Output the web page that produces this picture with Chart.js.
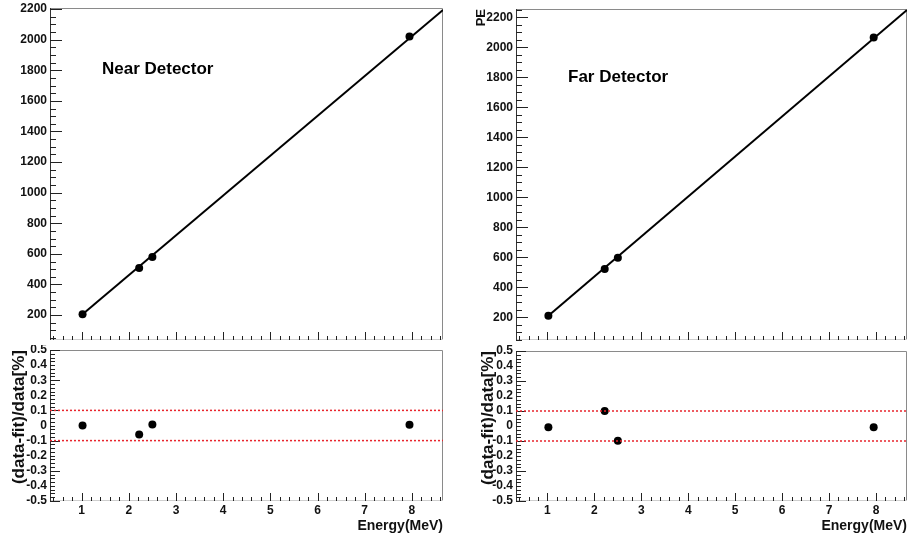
<!DOCTYPE html>
<html>
<head>
<meta charset="utf-8">
<script src="https://cdn.jsdelivr.net/npm/chart.js@4"></script>
<style>
  body { margin: 0; background: #fff; }
  #wrap { position: relative; width: 911px; height: 540px; overflow: hidden; }
  canvas { position: absolute; }
  .label { position: absolute; font: bold 17px 'Liberation Sans', Arial, sans-serif; color: #000; line-height: 20px; white-space: nowrap; }
</style>
</head>
<body>
<div id="wrap">
  <canvas id="nearTop" width="455" height="345" style="left:0;top:0"></canvas>
  <canvas id="nearRes" width="455" height="195" style="left:0;top:345px"></canvas>
  <canvas id="farTop" width="456" height="345" style="left:455px;top:0"></canvas>
  <canvas id="farRes" width="456" height="195" style="left:455px;top:345px"></canvas>
  <div class="label" style="left:102px;top:59px">Near Detector</div>
  <div class="label" style="left:568px;top:67px">Far Detector</div>
</div>
<script>
// calibration points (MeV) and measured PE
const energy = [1.02, 2.22, 2.5, 7.95];
const nearPE = [205, 508, 580, 2020];
const farPE = [211, 522, 598, 2065];

// residuals (data-fit)/data in %
const nearResid = [0.0, -0.06, 0.006, 0.005];
const farResid = [-0.008, 0.1, -0.098, -0.008];

// fitted lines, endpoints
const nearFitX = [1.02, 8.66];
const nearFitY = [205, 2194];
const farFitX = [1.02, 8.66];
const farFitY = [211, 2248];

// +-0.1% reference lines
const limitLevels = [0.1, -0.1];

// tick labels
const energyTicks = [1, 2, 3, 4, 5, 6, 7, 8];
const peTicks = [200, 400, 600, 800, 1000, 1200, 1400, 1600, 1800, 2000, 2200];
const residTicks = [-0.5, -0.4, -0.3, -0.2, -0.1, 0, 0.1, 0.2, 0.3, 0.4, 0.5];

const X_MIN = 0.33, X_MAX = 8.66;

Chart.defaults.font.family = "'Liberation Sans', Arial, sans-serif";
Chart.defaults.font.weight = 'bold';
Chart.defaults.color = '#111';

// ROOT style frame with ticks pointing into the plot
const rootAxes = {
  id: 'rootAxes',
  beforeDatasetsDraw(chart, args, opts) {
    const { ctx, chartArea: a, scales: { x, y } } = chart;
    ctx.save();
    ctx.lineWidth = 1;
    ctx.strokeStyle = '#8a8a8a';
    ctx.beginPath();
    ctx.moveTo(a.left, a.top + 0.5);
    ctx.lineTo(a.right - 0.5, a.top + 0.5);
    ctx.lineTo(a.right - 0.5, a.bottom);
    ctx.stroke();
    ctx.strokeStyle = '#cfcfcf';
    ctx.beginPath();
    ctx.moveTo(a.left, a.bottom - 0.5);
    ctx.lineTo(a.right, a.bottom - 0.5);
    ctx.stroke();
    ctx.strokeStyle = '#333';
    ctx.beginPath();
    ctx.moveTo(a.left + 0.5, a.top);
    ctx.lineTo(a.left + 0.5, a.bottom);
    ctx.stroke();

    ctx.strokeStyle = '#222';
    ctx.beginPath();
    // y ticks
    const ys = opts.yMinor;
    for (let n = Math.ceil(y.min / ys - 1e-6); n * ys <= y.max + 1e-9; n++) {
      const v = n * ys;
      const k = (v - opts.yMajorBase) / opts.yMajor;
      const len = Math.abs(k - Math.round(k)) < 1e-6 ? opts.yMajorLen : opts.yMinorLen;
      const py = Math.round(y.getPixelForValue(v)) + 0.5;
      ctx.moveTo(a.left, py);
      ctx.lineTo(a.left + len, py);
    }
    // x ticks
    const xs = 0.2;
    for (let n = Math.ceil(x.min / xs - 1e-6); n * xs <= x.max + 1e-9; n++) {
      const v = n * xs;
      const len = Math.abs(v - Math.round(v)) < 1e-6 ? 8 : 4;
      const px = Math.round(x.getPixelForValue(v)) + 0.5;
      ctx.moveTo(px, a.bottom);
      ctx.lineTo(px, a.bottom - len);
    }
    ctx.stroke();
    ctx.restore();
  }
};

function fixedTicks(list) {
  return (scale) => { scale.ticks = list.map(v => ({ value: v })); };
}

function makeChart(id, datasets, o) {
  return new Chart(document.getElementById(id), {
    type: 'scatter',
    data: { datasets },
    options: {
      responsive: false,
      animation: false,
      devicePixelRatio: 1,
      layout: { padding: o.padding },
      plugins: {
        legend: { display: false },
        tooltip: { enabled: false },
        rootAxes: o.ticks
      },
      scales: {
        x: {
          type: 'linear',
          min: X_MIN,
          max: X_MAX,
          display: o.showX,
          afterBuildTicks: fixedTicks(energyTicks),
          afterFit: (s) => { s.height = o.showX ? 39 : 0; s.paddingLeft = 0; s.paddingRight = 0; },
          grid: { display: false, drawTicks: false },
          border: { display: false },
          ticks: { font: { size: 12 }, padding: 2, autoSkip: false, maxRotation: 0, callback: (v) => String(v) },
          title: {
            display: o.showX,
            text: 'Energy(MeV)',
            align: 'end',
            font: { size: 14, weight: 'bold' },
            color: '#111',
            padding: { top: 0, bottom: 5 }
          }
        },
        y: {
          type: 'linear',
          min: o.yMin,
          max: o.yMax,
          afterBuildTicks: fixedTicks(o.yTicks),
          afterFit: (s) => { s.width = o.yWidth; s.paddingTop = 0; s.paddingBottom = 0; },
          grid: { display: false, drawTicks: false },
          border: { display: false },
          ticks: { font: { size: 12 }, padding: 3, autoSkip: false, callback: (v) => String(v) },
          title: o.yTitle
        }
      }
    },
    plugins: [rootAxes]
  });
}

function fitLine(xs, ys) {
  return {
    data: xs.map((x, i) => ({ x, y: ys[i] })),
    showLine: true,
    borderColor: '#000',
    borderWidth: 2,
    pointRadius: 0
  };
}

function markers(vals, r) {
  return {
    data: energy.map((x, i) => ({ x, y: vals[i] })),
    pointRadius: r,
    pointBackgroundColor: '#000',
    pointBorderWidth: 0
  };
}

function limitLines() {
  return limitLevels.map(lvl => ({
    data: [{ x: X_MIN, y: lvl }, { x: X_MAX, y: lvl }],
    showLine: true,
    borderColor: '#e8242c',
    borderWidth: 1.5,
    borderDash: [2, 2],
    pointRadius: 0
  }));
}

const peAxisTicks = { yMinor: 50, yMajor: 200, yMajorBase: 0, yMajorLen: 12, yMinorLen: 6 };
const resAxisTicks = { yMinor: 0.025, yMajor: 0.2, yMajorBase: 0.1, yMajorLen: 10, yMinorLen: 5 };
const residTitle = {
  display: true,
  text: '(data-fit)/data[%]',
  align: 'end',
  font: { size: 17, weight: 'bold' },
  color: '#111',
  padding: { top: 9, bottom: 0 }
};

makeChart('nearTop', [fitLine(nearFitX, nearFitY), markers(nearPE, 4)], {
  padding: { top: 8, right: 12, bottom: 5, left: 0 },
  showX: false, yMin: 37, yMax: 2207, yTicks: peTicks, yWidth: 50,
  ticks: peAxisTicks, yTitle: { display: false }
});

makeChart('nearRes', [...limitLines(), markers(nearResid, 4)], {
  padding: { top: 5, right: 12, bottom: 0, left: 0 },
  showX: true, yMin: -0.5, yMax: 0.5, yTicks: residTicks, yWidth: 50,
  ticks: resAxisTicks, yTitle: residTitle
});

makeChart('farTop', [fitLine(farFitX, farFitY), markers(farPE, 4)], {
  padding: { top: 9, right: 2, bottom: 5, left: 0 },
  showX: false, yMin: 49, yMax: 2255, yTicks: peTicks, yWidth: 61,
  ticks: peAxisTicks,
  yTitle: {
    display: true, text: 'PE', align: 'end',
    font: { size: 13, weight: 'bold' }, color: '#111',
    padding: { top: 19, bottom: 0 }
  }
});

makeChart('farRes', [...limitLines(), markers(farResid, 4)], {
  padding: { top: 6, right: 2, bottom: 0, left: 0 },
  showX: true, yMin: -0.5, yMax: 0.5, yTicks: residTicks, yWidth: 61,
  ticks: resAxisTicks, yTitle: Object.assign({}, residTitle, { padding: { top: 23, bottom: 0 } })
});
</script>
</body>
</html>
